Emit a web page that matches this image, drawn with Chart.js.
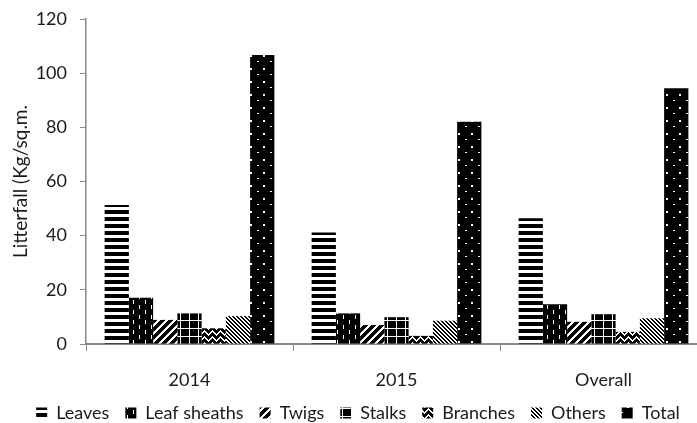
<!DOCTYPE html>
<html>
<head>
<meta charset="utf-8">
<script src="https://cdn.jsdelivr.net/npm/chart.js@4.4.1/dist/chart.umd.min.js"></script>
<style>
html,body{margin:0;padding:0;background:#fff;overflow:hidden;}
#wrap{width:720px;height:423px;}
</style>
</head>
<body>
<div id="wrap"><canvas id="c" width="720" height="423"></canvas></div>
<script>
const categories = ["2014", "2015", "Overall"];
const seriesNames = ["Leaves", "Leaf sheaths", "Twigs", "Stalks", "Branches", "Others", "Total"];
const leaves = [51.3, 41.2, 46.4];
const leafSheaths = [17.1, 11.3, 14.7];
const twigs = [8.9, 7.0, 8.2];
const stalks = [11.3, 9.9, 11.0];
const branches = [5.8, 3.0, 4.5];
const others = [10.3, 8.6, 9.5];
const total = [106.7, 82.1, 94.4];
const yTicks = [0, 20, 40, 60, 80, 100, 120];

function makePattern(w, h, fn) {
  const cv = document.createElement('canvas');
  cv.width = w; cv.height = h;
  const ctx = cv.getContext('2d');
  const img = ctx.createImageData(w, h);
  for (let y = 0; y < h; y++) {
    for (let x = 0; x < w; x++) {
      const black = fn(x, y);
      const i = (y * w + x) * 4;
      const v = black ? 0 : 255;
      img.data[i] = v; img.data[i+1] = v; img.data[i+2] = v; img.data[i+3] = 255;
    }
  }
  ctx.putImageData(img, 0, 0);
  return document.getElementById('c').getContext('2d').createPattern(cv, 'repeat');
}
const mod = (a, n) => ((a % n) + n) % n;

const patLeaves = makePattern(7, 7, (x, y) => y < 4);
const patSheaths = makePattern(12, 10, (x, y) => !((x === 1 && y < 4) || (x === 7 && y >= 5 && y < 9)));
const patTwigs = makePattern(8, 8, (x, y) => mod(x + y, 8) < 5);
const patStalks = makePattern(9, 8, (x, y) => !(x === 0 || y === 0));
const patBranches = makePattern(8, 6, (x, y) => {
  const t = Math.abs(mod(x, 8) - 4);
  return !(mod(y - t, 6) < 2);
});
const patOthers = makePattern(4, 4, (x, y) => mod(x - y, 4) < 2);
const patTotal = makePattern(13, 13, (x, y) => !(((x === 3 || x === 4) && (y === 3 || y === 4)) || ((x === 10 || x === 11) && y === 9)));

const seriesData = [leaves, leafSheaths, twigs, stalks, branches, others, total];
const patterns = [patLeaves, patSheaths, patTwigs, patStalks, patBranches, patOthers, patTotal];

const datasets = seriesNames.map((n, i) => ({
  label: n,
  data: seriesData[i],
  backgroundColor: patterns[i],
  borderWidth: 0,
  categoryPercentage: 0.82,
  barPercentage: 1.0
}));

const fontFam = "Lato, 'Liberation Sans', sans-serif";
const axisColor = '#8a8a8a';
const textColor = '#1a1a1a';

new Chart(document.getElementById('c'), {
  type: 'bar',
  data: { labels: categories, datasets: datasets },
  options: {
    responsive: false,
    animation: false,
    devicePixelRatio: 1,
    layout: { padding: { left: 9, right: 13, top: 19, bottom: -9 } },
    plugins: {
      legend: {
        position: 'bottom',
        labels: {
          boxWidth: 11, boxHeight: 11,
          font: { family: fontFam, size: 18 },
          color: textColor,
          padding: 16
        }
      },
      tooltip: { enabled: false }
    },
    scales: {
      x: {
        grid: { display: true, drawOnChartArea: false, tickLength: 7, color: axisColor, lineWidth: 1, offset: true },
        border: { display: true, color: axisColor, width: 2 },
        ticks: { font: { family: fontFam, size: 18 }, color: textColor, padding: 18 },
        afterFit: (s) => { s.height = 44; }
      },
      y: {
        min: 0, max: 120,
        afterBuildTicks: (s) => { s.ticks = yTicks.map(v => ({ value: v })); },
        grid: { display: true, drawOnChartArea: false, tickLength: 6, color: axisColor, lineWidth: 1 },
        border: { display: true, color: axisColor, width: 1.5 },
        ticks: { font: { family: fontFam, size: 18 }, color: textColor, padding: 13 },
        title: { display: true, text: 'Litterfall (Kg/sq.m.', font: { family: fontFam, size: 19 }, color: textColor, padding: { top: 0, bottom: 0 } },
        afterFit: (s) => { s.width = 77; s.paddingTop = 0; s.paddingBottom = 0; }
      }
    }
  }
});
</script>
</body>
</html>
